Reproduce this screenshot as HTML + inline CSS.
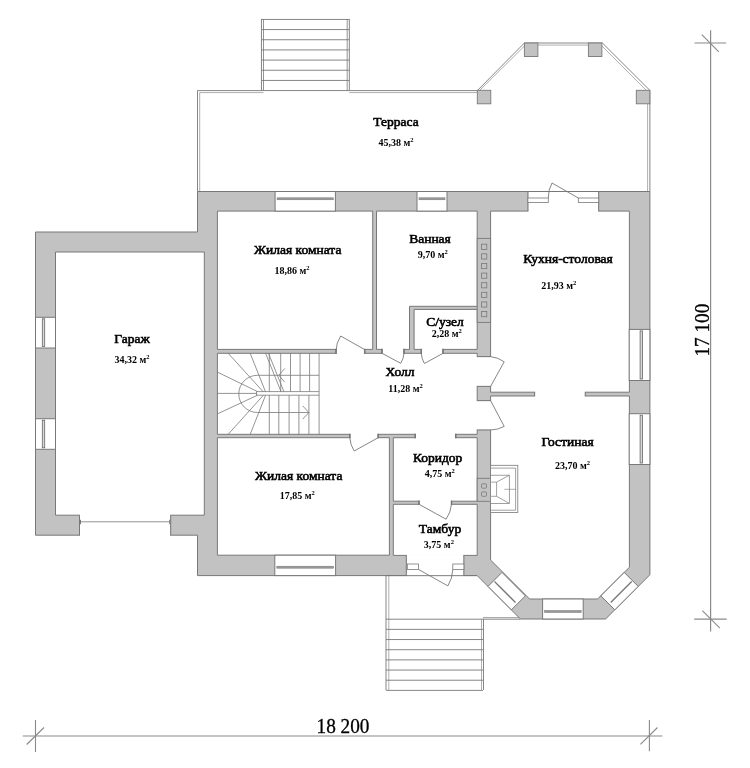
<!DOCTYPE html>
<html><head><meta charset="utf-8"><style>
html,body{margin:0;padding:0;background:#fff;width:750px;height:768px;overflow:hidden}
svg{display:block;will-change:transform}
</style></head><body>
<svg width="750" height="768" viewBox="0 0 750 768">
<rect width="750" height="768" fill="#fff"/>
<rect x="261.4" y="19.4" width="87.9" height="71.2" fill="#fff" stroke="#787878" stroke-width="0.9" />
<line x1="263.5" y1="19.4" x2="263.5" y2="90.6" stroke="#787878" stroke-width="0.8"/>
<line x1="347.2" y1="19.4" x2="347.2" y2="90.6" stroke="#787878" stroke-width="0.8"/>
<line x1="261.4" y1="29.57" x2="349.3" y2="29.57" stroke="#787878" stroke-width="0.9"/>
<line x1="261.4" y1="39.74" x2="349.3" y2="39.74" stroke="#787878" stroke-width="0.9"/>
<line x1="261.4" y1="49.91" x2="349.3" y2="49.91" stroke="#787878" stroke-width="0.9"/>
<line x1="261.4" y1="60.09" x2="349.3" y2="60.09" stroke="#787878" stroke-width="0.9"/>
<line x1="261.4" y1="70.26" x2="349.3" y2="70.26" stroke="#787878" stroke-width="0.9"/>
<line x1="261.4" y1="80.43" x2="349.3" y2="80.43" stroke="#787878" stroke-width="0.9"/>
<polyline points="197.5,191.5 197.5,90.6 261.4,90.6" fill="none" stroke="#787878" stroke-width="0.9" />
<polyline points="349.3,90.6 477.3,90.6 524.4,43 602.4,43 649.9,90.4 649.9,191.5" fill="none" stroke="#787878" stroke-width="0.9" />
<polyline points="199.7,191.5 199.7,92.6 263.5,92.6" fill="none" stroke="#777" stroke-width="0.6" />
<polyline points="349.3,92.6 477.3,92.6" fill="none" stroke="#777" stroke-width="0.6" />
<polyline points="479.6,90.4 525.4,45.1 602,45.1" fill="none" stroke="#777" stroke-width="0.6" />
<polyline points="601.5,45.5 647.6,91.6 647.6,191.5" fill="none" stroke="#777" stroke-width="0.6" />
<rect x="477.3" y="90.3" width="13.5" height="13.5" fill="#c2c2c2" stroke="#787878" stroke-width="0.9" />
<rect x="524.4" y="43" width="13.5" height="13.5" fill="#c2c2c2" stroke="#787878" stroke-width="0.9" />
<rect x="588.4" y="43" width="13.5" height="13.5" fill="#c2c2c2" stroke="#787878" stroke-width="0.9" />
<rect x="636.3" y="90.3" width="13.5" height="13.5" fill="#c2c2c2" stroke="#787878" stroke-width="0.9" />
<polygon points="197.5,191.5 649.9,191.5 649.9,574.8 605.6,619 520.4,619 477.2,575.6 197.5,575.6 197.5,535.2 35.5,535.2 35.5,232 197.5,232" fill="#c2c2c2" stroke="#787878" stroke-width="1" />
<polygon points="55.5,252 204.3,252 204.3,515.2 55.5,515.2" fill="#fff" stroke="#787878" stroke-width="1" />
<polygon points="217.4,211.1 372.7,211.1 372.7,349.4 217.4,349.4" fill="#fff" stroke="#787878" stroke-width="1" />
<polygon points="376.5,211.1 477.2,211.1 477.2,306.3 409.5,306.3 409.5,349.4 376.5,349.4" fill="#fff" stroke="#787878" stroke-width="1" />
<polygon points="414.1,309.4 477.2,309.4 477.2,349.4 414.1,349.4" fill="#fff" stroke="#787878" stroke-width="1" />
<polygon points="217.4,353.3 477.2,353.3 477.2,434.3 217.4,434.3" fill="#fff" stroke="#787878" stroke-width="1" />
<polygon points="490.6,211.1 629.4,211.1 629.4,392.2 490.6,392.2" fill="#fff" stroke="#787878" stroke-width="1" />
<polygon points="490.6,396 629.4,396 629.4,567.2 597.6,599 529.6,599 490.6,560" fill="#fff" stroke="#787878" stroke-width="1" />
<polygon points="217.4,437.7 389.4,437.7 389.4,555.2 217.4,555.2" fill="#fff" stroke="#787878" stroke-width="1" />
<polygon points="393.3,437.7 477.2,437.7 477.2,501.2 393.3,501.2" fill="#fff" stroke="#787878" stroke-width="1" />
<polygon points="393.3,504.3 477.2,504.3 477.2,555.4 393.3,555.4" fill="#fff" stroke="#787878" stroke-width="1" />
<rect x="336.5" y="348.1" width="27.7" height="6.5" fill="#fff" stroke="none" stroke-width="1" />
<line x1="336" y1="349.4" x2="336" y2="353.3" stroke="#787878" stroke-width="1"/>
<line x1="364.7" y1="349.4" x2="364.7" y2="353.3" stroke="#787878" stroke-width="1"/>
<rect x="382.5" y="348.1" width="21" height="6.5" fill="#fff" stroke="none" stroke-width="1" />
<line x1="382" y1="349.4" x2="382" y2="353.3" stroke="#787878" stroke-width="1"/>
<line x1="404" y1="349.4" x2="404" y2="353.3" stroke="#787878" stroke-width="1"/>
<rect x="421.8" y="348.1" width="20.7" height="6.5" fill="#fff" stroke="none" stroke-width="1" />
<line x1="421.3" y1="349.4" x2="421.3" y2="353.3" stroke="#787878" stroke-width="1"/>
<line x1="443" y1="349.4" x2="443" y2="353.3" stroke="#787878" stroke-width="1"/>
<rect x="350.3" y="433" width="27.4" height="6" fill="#fff" stroke="none" stroke-width="1" />
<line x1="349.8" y1="434.3" x2="349.8" y2="437.7" stroke="#787878" stroke-width="1"/>
<line x1="378.2" y1="434.3" x2="378.2" y2="437.7" stroke="#787878" stroke-width="1"/>
<rect x="415.7" y="433" width="39.5" height="6" fill="#fff" stroke="none" stroke-width="1" />
<line x1="415.2" y1="434.3" x2="415.2" y2="437.7" stroke="#787878" stroke-width="1"/>
<line x1="455.7" y1="434.3" x2="455.7" y2="437.7" stroke="#787878" stroke-width="1"/>
<rect x="419.5" y="499.9" width="31.5" height="5.7" fill="#fff" stroke="none" stroke-width="1" />
<line x1="419" y1="501.2" x2="419" y2="504.3" stroke="#787878" stroke-width="1"/>
<line x1="451.5" y1="501.2" x2="451.5" y2="504.3" stroke="#787878" stroke-width="1"/>
<rect x="535.1" y="390.9" width="49.7" height="6.4" fill="#fff" stroke="none" stroke-width="1" />
<line x1="534.6" y1="392.2" x2="534.6" y2="396" stroke="#787878" stroke-width="1"/>
<line x1="585.3" y1="392.2" x2="585.3" y2="396" stroke="#787878" stroke-width="1"/>
<rect x="475.9" y="357.1" width="16" height="28.8" fill="#fff" stroke="none" stroke-width="1" />
<line x1="477.2" y1="356.6" x2="490.6" y2="356.6" stroke="#787878" stroke-width="1"/>
<line x1="477.2" y1="386.4" x2="490.6" y2="386.4" stroke="#787878" stroke-width="1"/>
<rect x="475.9" y="401.1" width="16" height="28.4" fill="#fff" stroke="none" stroke-width="1" />
<line x1="477.2" y1="400.6" x2="490.6" y2="400.6" stroke="#787878" stroke-width="1"/>
<line x1="477.2" y1="430" x2="490.6" y2="430" stroke="#787878" stroke-width="1"/>
<rect x="406.8" y="554.2" width="56.6" height="22.2" fill="#fff" stroke="none" stroke-width="1" />
<line x1="406.3" y1="555.4" x2="406.3" y2="575.6" stroke="#787878" stroke-width="1"/>
<line x1="463.9" y1="555.4" x2="463.9" y2="575.6" stroke="#787878" stroke-width="1"/>
<line x1="386" y1="575.6" x2="477" y2="575.6" stroke="#787878" stroke-width="0.9"/>
<rect x="407.3" y="564" width="11.3" height="5.5" fill="#fff" stroke="#787878" stroke-width="0.8" />
<rect x="452.8" y="564" width="11.1" height="5.5" fill="#fff" stroke="#787878" stroke-width="0.8" />
<rect x="528.4" y="192" width="69.8" height="20.4" fill="#fff" stroke="none" stroke-width="1" />
<line x1="527.9" y1="191.5" x2="527.9" y2="211.1" stroke="#787878" stroke-width="1"/>
<line x1="598.7" y1="191.5" x2="598.7" y2="211.1" stroke="#787878" stroke-width="1"/>
<rect x="527.9" y="198" width="20.4" height="4.4" fill="#fff" stroke="#787878" stroke-width="0.8" />
<rect x="578.3" y="198" width="20.4" height="4.4" fill="#fff" stroke="#787878" stroke-width="0.8" />
<rect x="80" y="513.9" width="90.2" height="22.1" fill="#fff" stroke="none" stroke-width="1" />
<line x1="79.5" y1="515.2" x2="79.5" y2="535.2" stroke="#787878" stroke-width="1"/>
<line x1="170.7" y1="515.2" x2="170.7" y2="535.2" stroke="#787878" stroke-width="1"/>
<line x1="80.5" y1="521.8" x2="169.7" y2="521.8" stroke="#787878" stroke-width="0.8"/>
<line x1="80.5" y1="519.8" x2="80.5" y2="524.2" stroke="#787878" stroke-width="1"/>
<line x1="169.7" y1="519.8" x2="169.7" y2="524.2" stroke="#787878" stroke-width="1"/>
<line x1="336" y1="348.8" x2="336" y2="353.9" stroke="#787878" stroke-width="1.5"/>
<line x1="364.7" y1="348.8" x2="364.7" y2="353.9" stroke="#787878" stroke-width="1.5"/>
<line x1="382" y1="348.8" x2="382" y2="353.9" stroke="#787878" stroke-width="1.5"/>
<line x1="404" y1="348.8" x2="404" y2="353.9" stroke="#787878" stroke-width="1.5"/>
<line x1="421.3" y1="348.8" x2="421.3" y2="353.9" stroke="#787878" stroke-width="1.5"/>
<line x1="443" y1="348.8" x2="443" y2="353.9" stroke="#787878" stroke-width="1.5"/>
<line x1="349.8" y1="433.7" x2="349.8" y2="438.3" stroke="#787878" stroke-width="1.5"/>
<line x1="378.2" y1="433.7" x2="378.2" y2="438.3" stroke="#787878" stroke-width="1.5"/>
<line x1="415.2" y1="433.7" x2="415.2" y2="438.3" stroke="#787878" stroke-width="1.5"/>
<line x1="455.7" y1="433.7" x2="455.7" y2="438.3" stroke="#787878" stroke-width="1.5"/>
<line x1="419" y1="500.6" x2="419" y2="504.9" stroke="#787878" stroke-width="1.5"/>
<line x1="451.5" y1="500.6" x2="451.5" y2="504.9" stroke="#787878" stroke-width="1.5"/>
<line x1="364.7" y1="349.6" x2="340.7" y2="336" stroke="#787878" stroke-width="0.9"/>
<path d="M340.7,336 A27.59,27.59 0 0 0 336,351" fill="none" stroke="#787878" stroke-width="0.9"/>
<line x1="382" y1="353.3" x2="400.7" y2="363.3" stroke="#787878" stroke-width="0.9"/>
<path d="M400.7,363.3 A21.21,21.21 0 0 0 404,353.3" fill="none" stroke="#787878" stroke-width="0.9"/>
<line x1="443" y1="353.3" x2="424.4" y2="363.5" stroke="#787878" stroke-width="0.9"/>
<path d="M424.4,363.5 A21.21,21.21 0 0 1 421.3,353.3" fill="none" stroke="#787878" stroke-width="0.9"/>
<line x1="378.2" y1="437.7" x2="354.2" y2="451" stroke="#787878" stroke-width="0.9"/>
<path d="M354.2,451 A27.44,27.44 0 0 1 349.8,437.7" fill="none" stroke="#787878" stroke-width="0.9"/>
<line x1="490.6" y1="386.4" x2="504.2" y2="361.8" stroke="#787878" stroke-width="0.9"/>
<path d="M504.2,361.8 A28.11,28.11 0 0 0 490.6,356.6" fill="none" stroke="#787878" stroke-width="0.9"/>
<line x1="490.6" y1="400.6" x2="504.2" y2="426.4" stroke="#787878" stroke-width="0.9"/>
<path d="M504.2,426.4 A29.17,29.17 0 0 1 490.6,430" fill="none" stroke="#787878" stroke-width="0.9"/>
<line x1="419" y1="504.3" x2="446.1" y2="519.2" stroke="#787878" stroke-width="0.9"/>
<path d="M446.1,519.2 A30.93,30.93 0 0 0 451.5,504.3" fill="none" stroke="#787878" stroke-width="0.9"/>
<line x1="418.6" y1="569.5" x2="447.9" y2="585.9" stroke="#787878" stroke-width="0.9"/>
<path d="M447.9,585.9 A33.58,33.58 0 0 0 452.8,569.5" fill="none" stroke="#787878" stroke-width="0.9"/>
<line x1="578.3" y1="198" x2="552" y2="183" stroke="#787878" stroke-width="0.9"/>
<path d="M552,183 A30.28,30.28 0 0 0 548.3,198" fill="none" stroke="#787878" stroke-width="0.9"/>
<rect x="275.1" y="191.5" width="60.3" height="19.6" fill="#fff" stroke="#787878" stroke-width="1" />
<rect x="277.1" y="197.8" width="56.3" height="2" fill="#999" stroke="#777" stroke-width="0.5" />
<rect x="417" y="191.5" width="30" height="19.6" fill="#fff" stroke="#787878" stroke-width="1" />
<rect x="419" y="197.8" width="26" height="2" fill="#999" stroke="#777" stroke-width="0.5" />
<rect x="274.8" y="555.2" width="60.8" height="20.4" fill="#fff" stroke="#787878" stroke-width="1" />
<rect x="276.8" y="566.2" width="56.8" height="2" fill="#999" stroke="#777" stroke-width="0.5" />
<rect x="35.5" y="317.3" width="20" height="30.7" fill="#fff" stroke="#787878" stroke-width="1" />
<rect x="42.3" y="318.8" width="2.4" height="27.7" fill="#d8d8d8" stroke="#666" stroke-width="0.8" />
<rect x="35.5" y="418.7" width="20" height="30.6" fill="#fff" stroke="#787878" stroke-width="1" />
<rect x="42.3" y="420.2" width="2.4" height="27.6" fill="#d8d8d8" stroke="#666" stroke-width="0.8" />
<rect x="629.2" y="329.4" width="20.7" height="51.1" fill="#fff" stroke="#787878" stroke-width="1" />
<rect x="640.1" y="330.9" width="2.4" height="48.1" fill="#d8d8d8" stroke="#666" stroke-width="0.8" />
<rect x="629.2" y="413.7" width="20.7" height="50.8" fill="#fff" stroke="#787878" stroke-width="1" />
<rect x="640.1" y="415.2" width="2.4" height="47.8" fill="#d8d8d8" stroke="#666" stroke-width="0.8" />
<rect x="542.6" y="599" width="40.6" height="20" fill="#fff" stroke="#787878" stroke-width="1" />
<rect x="544.6" y="610.5" width="36.6" height="2" fill="#999" stroke="#777" stroke-width="0.5" />
<polygon points="488,586.4 511.4,609.8 525.4,595.9 502,572.4" fill="#fff" stroke="#787878" stroke-width="1" />
<line x1="494.5" y1="581.5" x2="515.5" y2="602.5" stroke="#777" stroke-width="1.3"/>
<polygon points="638.2,586.4 614.8,609.8 600.8,595.9 624.2,572.4" fill="#fff" stroke="#787878" stroke-width="1" />
<line x1="631.7" y1="581.5" x2="610.7" y2="602.5" stroke="#777" stroke-width="1.3"/>
<rect x="477.2" y="238.4" width="13.4" height="84" fill="#c2c2c2" stroke="#787878" stroke-width="0.9" />
<rect x="481.6" y="244.2" width="5.2" height="5.2" fill="#c2c2c2" stroke="#787878" stroke-width="0.8" />
<rect x="481.6" y="253.82" width="5.2" height="5.2" fill="#c2c2c2" stroke="#787878" stroke-width="0.8" />
<rect x="481.6" y="263.44" width="5.2" height="5.2" fill="#c2c2c2" stroke="#787878" stroke-width="0.8" />
<rect x="481.6" y="273.06" width="5.2" height="5.2" fill="#c2c2c2" stroke="#787878" stroke-width="0.8" />
<rect x="481.6" y="282.68" width="5.2" height="5.2" fill="#c2c2c2" stroke="#787878" stroke-width="0.8" />
<rect x="481.6" y="292.3" width="5.2" height="5.2" fill="#c2c2c2" stroke="#787878" stroke-width="0.8" />
<rect x="481.6" y="301.92" width="5.2" height="5.2" fill="#c2c2c2" stroke="#787878" stroke-width="0.8" />
<rect x="481.6" y="311.54" width="5.2" height="5.2" fill="#c2c2c2" stroke="#787878" stroke-width="0.8" />
<rect x="477.2" y="478.3" width="13.4" height="23" fill="#c2c2c2" stroke="#787878" stroke-width="0.9" />
<rect x="481.5" y="483.8" width="5" height="4.4" fill="#c2c2c2" stroke="#787878" stroke-width="0.8" rx="1"/>
<rect x="481.5" y="491.9" width="5" height="4.4" fill="#c2c2c2" stroke="#787878" stroke-width="0.8" rx="1"/>
<rect x="490.6" y="465.3" width="27.2" height="47.2" fill="#fff" stroke="#787878" stroke-width="0.8" />
<polyline points="490.6,468.1 515.6,468.1 515.6,510.2 490.6,510.2" fill="none" stroke="#787878" stroke-width="0.7" />
<rect x="490.6" y="475.2" width="18.7" height="28.2" fill="#fff" stroke="#787878" stroke-width="0.7" />
<polyline points="491.2,482.1 496.6,482.1 509.3,475.3" fill="none" stroke="#787878" stroke-width="0.7" />
<polyline points="491.2,496.3 496.6,496.3 509.3,503.4" fill="none" stroke="#787878" stroke-width="0.7" />
<line x1="496.6" y1="482.1" x2="496.6" y2="496.3" stroke="#787878" stroke-width="0.7"/>
<line x1="504.3" y1="489.3" x2="516.1" y2="489.3" stroke="#787878" stroke-width="0.6"/>
<line x1="319.1" y1="353.3" x2="319.1" y2="434.3" stroke="#787878" stroke-width="0.8"/>
<polyline points="319.1,391.6 256.5,391.6 256.5,395.2 319.1,395.2" fill="none" stroke="#787878" stroke-width="0.8" />
<line x1="269.3" y1="353.3" x2="269.3" y2="391.6" stroke="#787878" stroke-width="0.8"/>
<line x1="280.7" y1="353.3" x2="280.7" y2="391.6" stroke="#787878" stroke-width="0.8"/>
<line x1="290.5" y1="353.3" x2="290.5" y2="391.6" stroke="#787878" stroke-width="0.8"/>
<line x1="300.1" y1="353.3" x2="300.1" y2="391.6" stroke="#787878" stroke-width="0.8"/>
<line x1="309.6" y1="353.3" x2="309.6" y2="391.6" stroke="#787878" stroke-width="0.8"/>
<line x1="269.3" y1="395.2" x2="269.3" y2="434.3" stroke="#787878" stroke-width="0.8"/>
<line x1="278.8" y1="395.2" x2="278.8" y2="434.3" stroke="#787878" stroke-width="0.8"/>
<line x1="289.1" y1="395.2" x2="289.1" y2="434.3" stroke="#787878" stroke-width="0.8"/>
<line x1="298.9" y1="395.2" x2="298.9" y2="434.3" stroke="#787878" stroke-width="0.8"/>
<line x1="308.9" y1="395.2" x2="308.9" y2="434.3" stroke="#787878" stroke-width="0.8"/>
<path d="M319.1,375.3 H257.4 A18.6,18.6 0 0 0 257.4,412.5 H308.9" fill="none" stroke="#787878" stroke-width="0.8"/>
<line x1="228.2" y1="353.3" x2="263.4" y2="392" stroke="#787878" stroke-width="0.8"/>
<line x1="250.2" y1="353.3" x2="265.6" y2="392" stroke="#787878" stroke-width="0.8"/>
<line x1="217.4" y1="372.1" x2="257.5" y2="391.6" stroke="#787878" stroke-width="0.8"/>
<line x1="217.4" y1="393.4" x2="256.5" y2="393.4" stroke="#787878" stroke-width="0.8"/>
<line x1="217.4" y1="413.9" x2="257.5" y2="395.2" stroke="#787878" stroke-width="0.8"/>
<line x1="228.2" y1="434.3" x2="263.4" y2="395.2" stroke="#787878" stroke-width="0.8"/>
<line x1="250.2" y1="434.3" x2="265.6" y2="395.2" stroke="#787878" stroke-width="0.8"/>
<line x1="265.6" y1="353.3" x2="281" y2="391.6" stroke="#787878" stroke-width="0.8"/>
<line x1="268.5" y1="353.3" x2="283.9" y2="391.6" stroke="#787878" stroke-width="0.8"/>
<polyline points="284.7,368.5 278.8,375.3 284.7,382.1" fill="none" stroke="#787878" stroke-width="0.8" />
<polyline points="302.7,405.9 308.9,412.5 302.7,419.1" fill="none" stroke="#787878" stroke-width="0.8" />
<polyline points="386,575.6 386,690" fill="none" stroke="#787878" stroke-width="0.9" />
<line x1="388.8" y1="575.6" x2="388.8" y2="690" stroke="#787878" stroke-width="0.6"/>
<polyline points="386,619.2 483.5,619.2 483.5,690" fill="none" stroke="#787878" stroke-width="0.9" />
<line x1="481.5" y1="619.2" x2="481.5" y2="690" stroke="#787878" stroke-width="0.6"/>
<line x1="483" y1="617.6" x2="519" y2="617.6" stroke="#787878" stroke-width="0.7"/>
<line x1="483" y1="619.2" x2="520.4" y2="619.2" stroke="#787878" stroke-width="0.9"/>
<line x1="386" y1="629.37" x2="483" y2="629.37" stroke="#787878" stroke-width="0.9"/>
<line x1="386" y1="639.54" x2="483" y2="639.54" stroke="#787878" stroke-width="0.9"/>
<line x1="386" y1="649.71" x2="483" y2="649.71" stroke="#787878" stroke-width="0.9"/>
<line x1="386" y1="659.88" x2="483" y2="659.88" stroke="#787878" stroke-width="0.9"/>
<line x1="386" y1="670.05" x2="483" y2="670.05" stroke="#787878" stroke-width="0.9"/>
<line x1="386" y1="680.22" x2="483" y2="680.22" stroke="#787878" stroke-width="0.9"/>
<line x1="386" y1="690.39" x2="483" y2="690.39" stroke="#787878" stroke-width="0.9"/>
<line x1="22.7" y1="736" x2="662.4" y2="736" stroke="#8a8a8a" stroke-width="1.2"/>
<line x1="35.5" y1="720" x2="35.5" y2="752" stroke="#8a8a8a" stroke-width="1.1"/>
<line x1="26.7" y1="744.5" x2="44" y2="727.5" stroke="#8a8a8a" stroke-width="1.1"/>
<line x1="649.4" y1="720" x2="649.4" y2="751.3" stroke="#8a8a8a" stroke-width="1.1"/>
<line x1="640.4" y1="744.4" x2="657.5" y2="727.5" stroke="#8a8a8a" stroke-width="1.1"/>
<line x1="710.6" y1="30.3" x2="710.6" y2="631.4" stroke="#8a8a8a" stroke-width="1.2"/>
<line x1="694.5" y1="43" x2="726.2" y2="43" stroke="#8a8a8a" stroke-width="1.1"/>
<line x1="701.8" y1="34.6" x2="718.8" y2="51.8" stroke="#8a8a8a" stroke-width="1.1"/>
<line x1="694.2" y1="619.1" x2="726.7" y2="619.1" stroke="#8a8a8a" stroke-width="1.1"/>
<line x1="702.3" y1="610.6" x2="719.9" y2="628.2" stroke="#8a8a8a" stroke-width="1.1"/>
<g font-family="Liberation Serif, serif" fill="#000" stroke="#000" stroke-width="0.6">
<text x="396" y="126" font-size="13.5" font-weight="normal" text-anchor="middle" >Терраса</text>
<text x="396" y="145.9" font-size="10" font-weight="bold" text-anchor="middle" stroke="none">45,38 м<tspan font-size="6.5" dy="-4">2</tspan></text>
<text x="297.7" y="254" font-size="13.5" font-weight="normal" text-anchor="middle" >Жилая комната</text>
<text x="292" y="273.5" font-size="10" font-weight="bold" text-anchor="middle" stroke="none">18,86 м<tspan font-size="6.5" dy="-4">2</tspan></text>
<text x="430" y="243.1" font-size="13.5" font-weight="normal" text-anchor="middle" >Ванная</text>
<text x="432.8" y="258.1" font-size="10" font-weight="bold" text-anchor="middle" stroke="none">9,70 м<tspan font-size="6.5" dy="-4">2</tspan></text>
<text x="568" y="263" font-size="13.5" font-weight="normal" text-anchor="middle" >Кухня-столовая</text>
<text x="558.7" y="288.7" font-size="10" font-weight="bold" text-anchor="middle" stroke="none">21,93 м<tspan font-size="6.5" dy="-4">2</tspan></text>
<text x="132" y="343.2" font-size="13.5" font-weight="normal" text-anchor="middle" >Гараж</text>
<text x="132" y="363.3" font-size="10" font-weight="bold" text-anchor="middle" stroke="none">34,32 м<tspan font-size="6.5" dy="-4">2</tspan></text>
<text x="445" y="325.8" font-size="13.5" font-weight="normal" text-anchor="middle" >С/узел</text>
<text x="446.8" y="337.4" font-size="10" font-weight="bold" text-anchor="middle" stroke="none">2,28 м<tspan font-size="6.5" dy="-4">2</tspan></text>
<text x="400.1" y="375.6" font-size="13.5" font-weight="normal" text-anchor="middle" >Холл</text>
<text x="405.6" y="391.7" font-size="10" font-weight="bold" text-anchor="middle" stroke="none">11,28 м<tspan font-size="6.5" dy="-4">2</tspan></text>
<text x="567.5" y="446.3" font-size="13.5" font-weight="normal" text-anchor="middle" >Гостиная</text>
<text x="572.5" y="469" font-size="10" font-weight="bold" text-anchor="middle" stroke="none">23,70 м<tspan font-size="6.5" dy="-4">2</tspan></text>
<text x="437.6" y="461.6" font-size="13.5" font-weight="normal" text-anchor="middle" >Коридор</text>
<text x="439.7" y="477" font-size="10" font-weight="bold" text-anchor="middle" stroke="none">4,75 м<tspan font-size="6.5" dy="-4">2</tspan></text>
<text x="440" y="533" font-size="13.5" font-weight="normal" text-anchor="middle" >Тамбур</text>
<text x="438.9" y="547.5" font-size="10" font-weight="bold" text-anchor="middle" stroke="none">3,75 м<tspan font-size="6.5" dy="-4">2</tspan></text>
<text x="298.7" y="479.8" font-size="13.5" font-weight="normal" text-anchor="middle" >Жилая комната</text>
<text x="297.2" y="499" font-size="10" font-weight="bold" text-anchor="middle" stroke="none">17,85 м<tspan font-size="6.5" dy="-4">2</tspan></text>
<text transform="translate(343,733.4) scale(0.94,1)" font-size="20.5" font-weight="normal" text-anchor="middle" stroke-width="0.3">18 200</text>
<text x="0" y="0" font-size="20.5" font-weight="normal" text-anchor="middle" stroke-width="0.3" transform="translate(708.6,330.1) rotate(-90) scale(0.94,1)">17 100</text>
</g>
</svg>
</body></html>
